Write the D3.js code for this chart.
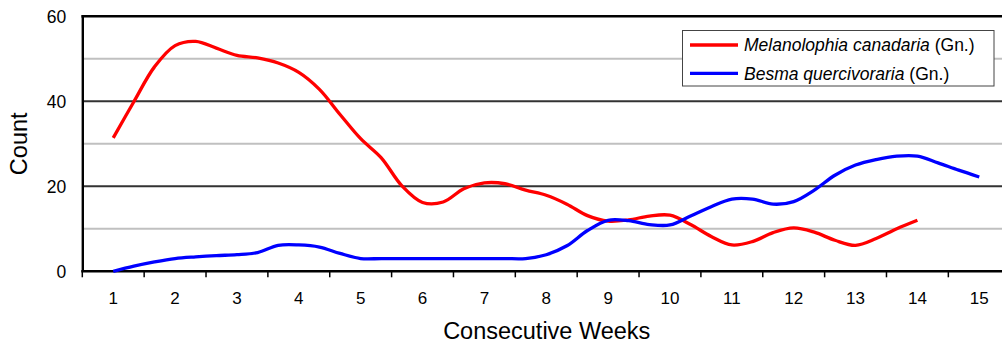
<!DOCTYPE html>
<html>
<head>
<meta charset="utf-8">
<script src="https://cdn.jsdelivr.net/npm/d3@7"></script>
<style>
  html, body { margin: 0; padding: 0; background: #fff; }
  svg { display: block; font-family: Arial, "Liberation Sans", sans-serif; }
</style>
</head>
<body>
<svg id="chart" width="1002" height="344"></svg>
<script>
// Week labels on the category axis
const weeks = d3.range(1, 16);
// Counts were taken three times per week, starting at week 1
const samplesPerWeek = 3;
const yTicks = [0, 20, 40, 60];
const yMinorTicks = [10, 30, 50];

const melanolophia = [31.4, 39.9, 48.1, 53.1, 54.1, 52.5, 50.8, 50.2, 49.0, 46.8,
  42.8, 36.9, 31.2, 26.7, 20.1, 16.2, 16.3, 19.4, 20.8, 20.6,
  19.1, 17.9, 15.8, 13.1, 11.8, 12.1, 13.0, 13.2, 11.0, 8.2,
  6.2, 7.0, 9.1, 10.2, 9.2, 7.3, 6.1, 7.7, 10.0, 12.0];

const besma = [0, 1.2, 2.2, 3.0, 3.4, 3.7, 3.9, 4.4, 6.1, 6.2,
  5.7, 4.2, 3.0, 3.0, 3.0, 3.0, 3.0, 3.0, 3.0, 3.0,
  3.0, 3.9, 6.0, 9.6, 12.0, 11.9, 11.0, 10.9, 13.0, 15.2,
  17.0, 17.0, 15.8, 16.4, 19.1, 22.6, 25.0, 26.3, 27.1, 27.1,
  25.5, 23.8, 22.2];

const seriesList = [
  { name: "Melanolophia canadaria", author: "(Gn.)", values: melanolophia, color: "#ff0000" },
  { name: "Besma quercivoraria", author: "(Gn.)", values: besma, color: "#0000ff" }
];

const svg = d3.select("#chart");
const plot = { left: 82.3, right: 1010.2, top: 16.3, bottom: 271.3 };

// Band scale for week categories, linear scale for the sample positions
const xBand = d3.scaleBand().domain(weeks).range([plot.left, plot.right]);
const x = d3.scaleLinear().domain([0.5, 15.5]).range([plot.left, plot.right]);
const y = d3.scaleLinear().domain([0, 60]).range([plot.bottom, plot.top]);

// Minor gridlines
svg.append("g").selectAll("line").data(yMinorTicks).join("line")
  .attr("x1", plot.left).attr("x2", plot.right)
  .attr("y1", d => y(d)).attr("y2", d => y(d))
  .attr("stroke", "#c0c0c0").attr("stroke-width", 2);

// Major gridlines
svg.append("g").selectAll("line").data(yTicks.filter(d => d > 0 && d < 60)).join("line")
  .attr("x1", plot.left).attr("x2", plot.right)
  .attr("y1", d => y(d)).attr("y2", d => y(d))
  .attr("stroke", "#333").attr("stroke-width", 2);

// Top frame line at 60
svg.append("line")
  .attr("x1", plot.left - 1).attr("x2", plot.right)
  .attr("y1", y(60)).attr("y2", y(60))
  .attr("stroke", "#000").attr("stroke-width", 2.4);

// Y axis
const yAxis = svg.append("g")
  .attr("transform", `translate(${plot.left},0)`)
  .call(d3.axisLeft(y).tickValues(yTicks).tickSize(0).tickPadding(16));
yAxis.select(".domain").attr("stroke", "#000").attr("stroke-width", 2.4);
yAxis.selectAll("text").attr("font-size", 17.5).attr("fill", "#000")
  .attr("font-family", "Arial, 'Liberation Sans', sans-serif").attr("dy", "0.36em");

// X axis: ticks at band boundaries, labels centred in each band
const boundaries = d3.range(0, weeks.length + 1).map(i => plot.left + i * xBand.bandwidth());
const xAxis = svg.append("g");
xAxis.append("line")
  .attr("x1", plot.left - 1).attr("x2", plot.right)
  .attr("y1", plot.bottom).attr("y2", plot.bottom)
  .attr("stroke", "#000").attr("stroke-width", 2.4);
xAxis.selectAll("line.tick").data(boundaries).join("line")
  .attr("class", "tick")
  .attr("x1", d => d).attr("x2", d => d)
  .attr("y1", plot.bottom).attr("y2", plot.bottom + 6)
  .attr("stroke", "#000").attr("stroke-width", 1.5);
xAxis.selectAll("text").data(weeks).join("text")
  .attr("x", d => xBand(d) + xBand.bandwidth() / 2)
  .attr("y", 304)
  .attr("text-anchor", "middle")
  .attr("font-size", 17)
  .attr("fill", "#000")
  .text(d => d);

// Axis titles
svg.append("text")
  .attr("x", (plot.left + plot.right) / 2 + 0.5)
  .attr("y", 338.5)
  .attr("text-anchor", "middle")
  .attr("font-size", 23.5)
  .attr("fill", "#000")
  .text("Consecutive Weeks");

svg.append("text")
  .attr("transform", `translate(26.5,${(plot.top + plot.bottom) / 2}) rotate(-90)`)
  .attr("text-anchor", "middle")
  .attr("font-size", 23.5)
  .attr("fill", "#000")
  .text("Count");

// Series lines
const line = d3.line()
  .x((d, i) => x(1 + i / samplesPerWeek))
  .y(d => y(d))
  .curve(d3.curveCatmullRom.alpha(0.5));

svg.append("g").selectAll("path").data(seriesList).join("path")
  .attr("d", d => line(d.values))
  .attr("fill", "none")
  .attr("stroke", d => d.color)
  .attr("stroke-width", 3.3)
  .attr("stroke-linejoin", "round");

// Legend
const legend = svg.append("g");
legend.append("rect")
  .attr("x", 682.5).attr("y", 30.5)
  .attr("width", 311.5).attr("height", 55.5)
  .attr("fill", "#fff").attr("stroke", "#444").attr("stroke-width", 1);

const rows = legend.selectAll("g.row").data(seriesList).join("g")
  .attr("class", "row")
  .attr("transform", (d, i) => `translate(0,${45 + i * 28.3})`);
rows.append("line")
  .attr("x1", 690).attr("x2", 738)
  .attr("y1", 0).attr("y2", 0)
  .attr("stroke", d => d.color).attr("stroke-width", 3.3);
const labels = rows.append("text")
  .attr("x", 744).attr("y", 0).attr("dy", "0.36em")
  .attr("font-size", 17.5).attr("fill", "#000");
labels.append("tspan").attr("font-style", "italic").text(d => d.name);
labels.append("tspan").text(d => " " + d.author);
</script>
</body>
</html>
